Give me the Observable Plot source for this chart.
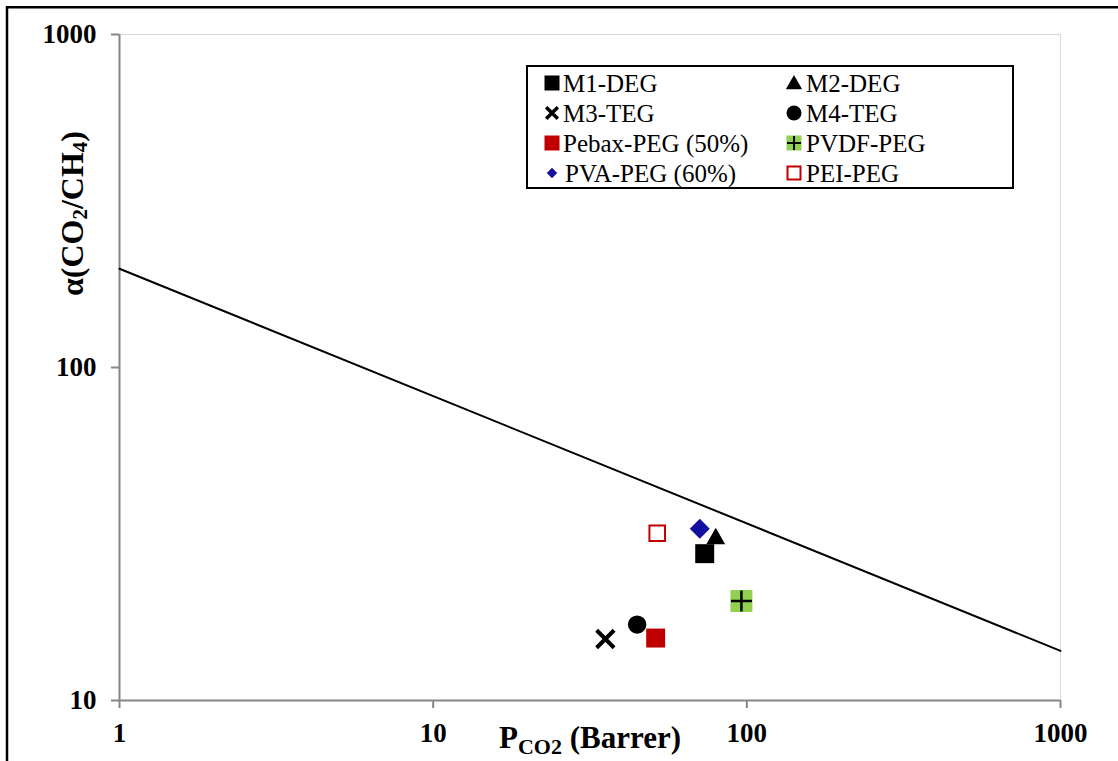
<!DOCTYPE html>
<html>
<head>
<meta charset="utf-8">
<script src="https://cdn.jsdelivr.net/npm/d3@7"></script>
<script src="https://cdn.jsdelivr.net/npm/@observablehq/plot@0.6"></script>
<style>
  html, body { margin: 0; padding: 0; background: #fff; }
  #chart { width: 1118px; height: 761px; }
</style>
</head>
<body>
<div id="chart"></div>
<script>
// ---- data ----
const seriesNames = ["M1-DEG", "M2-DEG", "M3-TEG", "M4-TEG", "Pebax-PEG (50%)", "PVDF-PEG", "PVA-PEG (60%)", "PEI-PEG"];
const pco2Values  = [73.4, 79.6, 35.4, 44.7, 51.2, 96.1, 70.8, 51.8];
const alphaValues = [27.6, 30.6, 15.3, 16.9, 15.4, 19.9, 32.8, 31.8];
// Robeson upper bound (1991) endpoints
const boundP     = [1, 1000];
const boundAlpha = [198, 14.1];
const xTicks = [1, 10, 100, 1000];
const yTicks = [10, 100, 1000];

const points = seriesNames.map((name, i) => ({name, p: pco2Values[i], a: alphaValues[i]}));
const bound = boundP.map((p, i) => ({p, a: boundAlpha[i]}));
const pick = n => points.filter(d => d.name === n);

const FONT = "'Liberation Serif', 'Times New Roman', serif";
const GREY = "#868686";

const svg = Plot.plot({
  width: 1118,
  height: 761,
  marginLeft: 119,
  marginRight: 58,
  marginTop: 34,
  marginBottom: 61,
  style: {fontFamily: FONT, background: "#fff", color: "black", overflow: "visible"},
  x: {type: "log", domain: [1, 1000]},
  y: {type: "log", domain: [10, 1000]},
  marks: [
    Plot.ruleY([1000], {stroke: "#d9d9d9", strokeWidth: 1}),
    Plot.ruleX([1000], {stroke: "#d9d9d9", strokeWidth: 1}),
    Plot.axisX({ticks: xTicks, tickFormat: d => String(d), tickSize: 8, tickPadding: 14,
      fontSize: 27, fontWeight: "bold", fill: "black", stroke: GREY, strokeWidth: 2, label: null}),
    Plot.axisY({ticks: yTicks, tickFormat: d => String(d), tickSize: 8, tickPadding: 15,
      fontSize: 27, fontWeight: "bold", fill: "black", stroke: GREY, strokeWidth: 2, label: null}),
    Plot.ruleY([10], {stroke: GREY, strokeWidth: 2}),
    Plot.ruleX([1], {stroke: GREY, strokeWidth: 2}),
    Plot.line(bound, {x: "p", y: "a", stroke: "black", strokeWidth: 2}),
    Plot.dot(pick("PEI-PEG"), {x: "p", y: "a", symbol: "square", r: 8.8, fill: "white", stroke: "#c00000", strokeWidth: 2}),
    Plot.dot(pick("PVA-PEG (60%)"), {x: "p", y: "a", symbol: "diamond2", r: 9, fill: "#14109f", stroke: "none"}),
    Plot.dot(pick("M2-DEG"), {x: "p", y: "a", symbol: "triangle", r: 7, fill: "black", stroke: "none"}),
    Plot.dot(pick("M1-DEG"), {x: "p", y: "a", symbol: "square", r: 10.7, fill: "black", stroke: "none"}),
    Plot.dot(pick("PVDF-PEG"), {x: "p", y: "a", symbol: "square", r: 12.4, fill: "#92d050", stroke: "none"}),
    Plot.dot(pick("PVDF-PEG"), {x: "p", y: "a", symbol: "plus", r: 6.8, stroke: "black", strokeWidth: 2.5}),
    Plot.dot(pick("M4-TEG"), {x: "p", y: "a", symbol: "circle", r: 9.2, fill: "black", stroke: "none"}),
    Plot.dot(pick("Pebax-PEG (50%)"), {x: "p", y: "a", symbol: "square", r: 10.7, fill: "#c00000", stroke: "none"}),
    Plot.dot(pick("M3-TEG"), {x: "p", y: "a", symbol: "times", r: 8, stroke: "black", strokeWidth: 4})
  ]
});

const s = d3.select(svg);

// outer frame
s.append("path").attr("d", "M7,761V7.3H1118").attr("fill", "none").attr("stroke", "black").attr("stroke-width", 2.5);

// y title
const yt = s.append("text")
  .attr("transform", "translate(83,213.5) rotate(-90)")
  .attr("text-anchor", "middle")
  .style("font-family", FONT).attr("font-size", 32).attr("font-weight", "bold").attr("fill", "black");
yt.append("tspan").text("α(CO");
yt.append("tspan").attr("dy", 4).attr("font-size", 21).text("2");
yt.append("tspan").attr("dy", -4).text("/CH");
yt.append("tspan").attr("dy", 4).attr("font-size", 21).text("4");
yt.append("tspan").attr("dy", -4).text(")");

// x title
const xt = s.append("text")
  .attr("x", 590).attr("y", 748)
  .attr("text-anchor", "middle")
  .style("font-family", FONT).attr("font-size", 31).attr("font-weight", "bold").attr("fill", "black");
xt.append("tspan").text("P");
xt.append("tspan").attr("dy", 6).attr("font-size", 22).text("CO2");
xt.append("tspan").attr("dy", -6).text(" (Barrer)");

// legend
const lg = s.append("g");
lg.append("rect").attr("x", 527).attr("y", 66).attr("width", 486).attr("height", 122)
  .attr("fill", "white").attr("stroke", "black").attr("stroke-width", 2);
const colX = [552, 794], textX = [563, 806], rowY = [83, 113, 143, 173];
const sym = (type, size) => d3.symbol(type, size)();
const drawMarker = (g, name) => {
  switch (name) {
    case "M1-DEG": g.append("rect").attr("x", -7.5).attr("y", -7.5).attr("width", 15).attr("height", 15).attr("fill", "black"); break;
    case "M2-DEG": g.append("path").attr("d", sym(d3.symbolTriangle, 115)).attr("transform", "translate(0,1.5)").attr("fill", "black"); break;
    case "M3-TEG": g.append("path").attr("d", sym(d3.symbolTimes, 90)).attr("stroke", "black").attr("stroke-width", 3.5).attr("fill", "none"); break;
    case "M4-TEG": g.append("circle").attr("r", 7.5).attr("fill", "black"); break;
    case "Pebax-PEG (50%)": g.append("rect").attr("x", -7.5).attr("y", -7.5).attr("width", 15).attr("height", 15).attr("fill", "#c00000"); break;
    case "PVDF-PEG":
      g.append("rect").attr("x", -7.5).attr("y", -7.5).attr("width", 15).attr("height", 15).attr("fill", "#92d050");
      g.append("path").attr("d", "M-7,0H7M0,-7V7").attr("stroke", "black").attr("stroke-width", 2); break;
    case "PVA-PEG (60%)": g.append("path").attr("d", sym(d3.symbolDiamond2, 70)).attr("fill", "#14109f"); break;
    case "PEI-PEG": g.append("rect").attr("x", -6.5).attr("y", -6.5).attr("width", 13).attr("height", 13).attr("fill", "white").attr("stroke", "#c00000").attr("stroke-width", 2); break;
  }
};
seriesNames.forEach((name, i) => {
  const col = i % 2, row = Math.floor(i / 2);
  const g = lg.append("g").attr("transform", `translate(${colX[col]},${rowY[row]})`);
  drawMarker(g, name);
  lg.append("text").attr("x", textX[col] + (name === "PVA-PEG (60%)" ? 2 : 0)).attr("y", rowY[row] + 9)
    .attr("text-anchor", "start")
    .style("font-family", FONT).attr("font-size", 25).attr("fill", "black").text(name);
});

document.getElementById("chart").appendChild(svg);
</script>
</body>
</html>
